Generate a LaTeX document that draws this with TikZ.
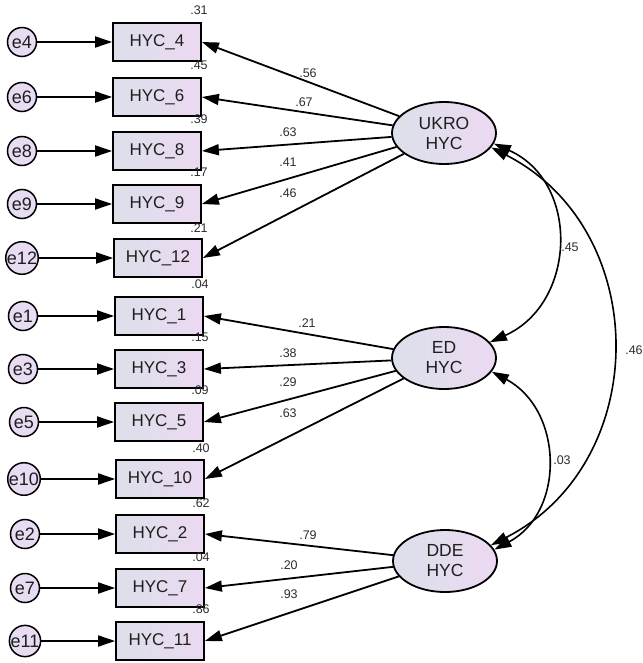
\documentclass[tikz,border=0pt]{standalone}
\usepackage{fontspec}
\setmainfont{Liberation Sans}
\usetikzlibrary{arrows.meta,shapes.geometric}
\definecolor{fillL}{RGB}{220,224,234}
\definecolor{fillR}{RGB}{236,217,242}
\definecolor{errfill}{RGB}{232,220,242}
\definecolor{txt}{RGB}{30,30,30}
\definecolor{numtxt}{RGB}{45,45,45}
\tikzset{
  obsbox/.style={draw=black,line width=1.8pt,minimum width=88pt,minimum height=38pt,inner sep=0pt,
    left color=fillL,right color=fillR,text=txt,font=\fontsize{17}{20}\selectfont},
  errc/.style={circle,draw=black,line width=1.5pt,minimum size=29pt,inner sep=0pt,fill=errfill,
    text=txt,font=\fontsize{18}{20}\selectfont},
  latent/.style={ellipse,draw=black,line width=1.8pt,minimum width=104pt,minimum height=62pt,inner sep=0pt,
    left color=fillL,right color=fillR,text=txt,align=center,font=\fontsize{17.5}{20}\selectfont},
  numlbl/.style={text=numtxt,font=\fontsize{12.5}{14}\selectfont,inner sep=0pt},
  arr/.style={line width=1.8pt,-{Triangle[length=17pt,width=11pt]}},
  cov/.style={line width=1.6pt,{Triangle[length=17pt,width=11pt]}-{Triangle[length=17pt,width=11pt]}}
}
\begin{document}
\begin{tikzpicture}[x=1pt,y=-1pt]
\useasboundingbox (0,0) rectangle (642,663);
% observed boxes
\node[obsbox] (b4)  at (157,42)  {HYC\_4};
\node[obsbox] (b6)  at (157,97)  {HYC\_6};
\node[obsbox] (b8)  at (157,151) {HYC\_8};
\node[obsbox] (b9)  at (157,204) {HYC\_9};
\node[obsbox] (b12) at (158,258) {HYC\_12};
\node[obsbox] (b1)  at (159,316) {HYC\_1};
\node[obsbox] (b3)  at (159,369) {HYC\_3};
\node[obsbox] (b5)  at (159,422) {HYC\_5};
\node[obsbox] (b10) at (160,479) {HYC\_10};
\node[obsbox] (b2)  at (160,534) {HYC\_2};
\node[obsbox] (b7)  at (160,588) {HYC\_7};
\node[obsbox] (b11) at (160,641) {HYC\_11};
% error terms
\node[errc] (e4)  at (22,42)  {e4};
\node[errc] (e6)  at (22,97)  {e6};
\node[errc] (e8)  at (22,151) {e8};
\node[errc] (e9)  at (22,204) {e9};
\node[errc] (e12) at (22,258) {e12};
\node[errc] (e1)  at (23,316) {e1};
\node[errc] (e3)  at (23,369) {e3};
\node[errc] (e5)  at (24,422) {e5};
\node[errc] (e10) at (24,479) {e10};
\node[errc] (e2)  at (25,534) {e2};
\node[errc] (e7)  at (25,588) {e7};
\node[errc] (e11) at (25,641) {e11};
\foreach \i in {4,6,8,9,12,1,3,5,10,2,7,11}{
  \draw[arr] (e\i) -- (b\i);
}
% latent variables
\node[latent] (ukro) at (444,133) {UKRO\\HYC};
\node[latent] (ed)   at (444,358) {ED\\HYC};
\node[latent] (dde)  at (445,561) {DDE\\HYC};
% loadings
\foreach \i in {4,6,8,9,12}{ \draw[arr] (ukro) -- (b\i.east); }
\foreach \i in {1,3,5,10}{ \draw[arr] (ed) -- (b\i.east); }
\foreach \i in {2,7,11}{ \draw[arr] (dde) -- (b\i.east); }
% covariances
\draw[cov] (ukro.-12) to[out=-24,in=24,looseness=1.22] (ed.19);
\draw[cov] (ukro.-17) to[out=-27,in=27,looseness=1.17] (dde.19);
\draw[cov] (ed.-16) to[out=-28,in=28,looseness=1.16] (dde.13);
% loading labels
\node[numlbl] (l4)  at (308,73)  {.56};
\node[numlbl] (l6)  at (304,102) {.67};
\node[numlbl] (l8)  at (288,132) {.63};
\node[numlbl] (l9)  at (288,162) {.41};
\node[numlbl] (l12) at (288,193) {.46};
\node[numlbl] (l1)  at (307,323) {.21};
\node[numlbl] (l3)  at (288,353) {.38};
\node[numlbl] (l5)  at (288,382) {.29};
\node[numlbl] (l10) at (288,413) {.63};
\node[numlbl] (l2)  at (308,535) {.79};
\node[numlbl] (l7)  at (289,565) {.20};
\node[numlbl] (l11) at (289,594) {.93};
% squared multiple correlations
\node[numlbl] (r4)  at (199,10)  {.31};
\node[numlbl] (r6)  at (199,65)  {.45};
\node[numlbl] (r8)  at (199,119) {.39};
\node[numlbl] (r9)  at (199,172) {.17};
\node[numlbl] (r12) at (199,228) {.21};
\node[numlbl] (r1)  at (200,284) {.04};
\node[numlbl] (r3)  at (200,337) {.15};
\node[numlbl] (r5)  at (200,390) {.09};
\node[numlbl] (r10) at (201,448) {.40};
\node[numlbl] (r2)  at (201,503) {.62};
\node[numlbl] (r7)  at (201,557) {.04};
\node[numlbl] (r11) at (201,609) {.86};
% covariance labels
\node[numlbl] (c45) at (570,247) {.45};
\node[numlbl] (c46) at (634,350) {.46};
\node[numlbl] (c03) at (562,460) {.03};
\end{tikzpicture}
\end{document}
